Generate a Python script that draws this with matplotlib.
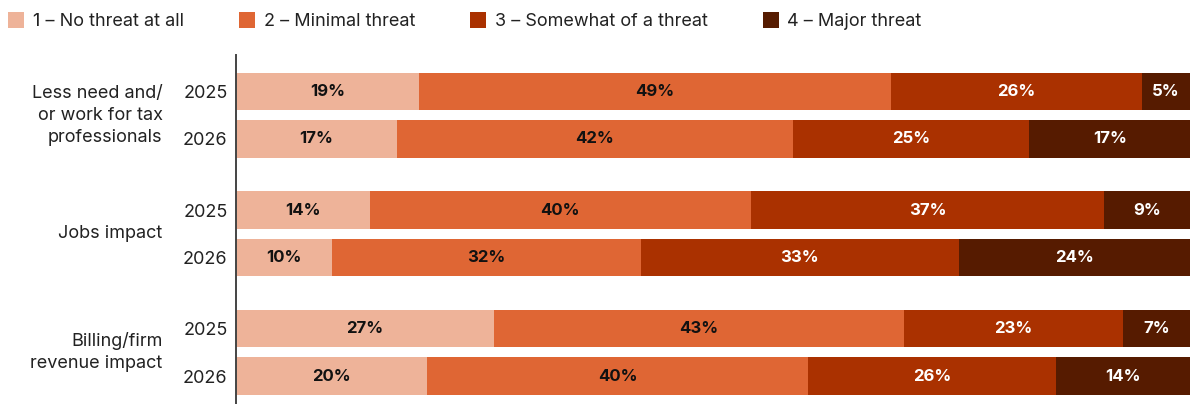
import matplotlib
matplotlib.use("Agg")
import matplotlib.pyplot as plt
import numpy as np

plt.rcParams["font.family"] = ["Inter", "DejaVu Sans"]

categories = ["Less need and/\nor work for tax\nprofessionals", "Jobs impact", "Billing/firm\nrevenue impact"]
years = ["2025", "2026"]
levels = ["1 – No threat at all", "2 – Minimal threat", "3 – Somewhat of a threat", "4 – Major threat"]

# rows: (category, year) in order; columns: threat levels 1..4 (percent)
no_threat = [19, 17, 14, 10, 27, 20]
minimal = [49, 42, 40, 32, 43, 40]
somewhat = [26, 25, 37, 33, 23, 26]
major = [5, 17, 9, 24, 7, 14]

colors = ["#EEB399", "#DF6634", "#AA3100", "#561B00"]
label_colors = ["#111111", "#111111", "white", "white"]

values = np.array([no_threat, minimal, somewhat, major], dtype=float).T
shares = values / values.sum(axis=1, keepdims=True) * 100

group_gap = 2.5
ypos = np.array([g * group_gap + j for g in range(len(categories)) for j in range(len(years))])
bar_h = 0.79

fig = plt.figure(figsize=(11.94, 4.04), dpi=100)
ax = fig.add_axes([236 / 1194, 0, (1190 - 236) / 1194, (404 - 55) / 404])

left = np.zeros(len(ypos))
handles = []
for k in range(4):
    h = ax.barh(ypos, shares[:, k], left=left, height=bar_h, color=colors[k],
                edgecolor="none", label=levels[k])
    handles.append(h)
    for i in range(len(ypos)):
        ax.text(left[i] + shares[i, k] / 2, ypos[i], f"{int(values[i, k])}%",
                ha="center", va="center", fontsize=12, fontweight="bold",
                color=label_colors[k])
    left += shares[:, k]

ax.set_xlim(0, 100)
ax.set_ylim(ypos[-1] + 0.59, -0.77)
ax.set_yticks(ypos)
ax.set_yticklabels(years * len(categories), fontsize=13, color="#222222")
ax.tick_params(axis="y", length=0, pad=6)
ax.set_xticks([])
for s in ["top", "right", "bottom"]:
    ax.spines[s].set_visible(False)
ax.spines["left"].set_color("#444444")
ax.spines["left"].set_linewidth(1.4)

for g, cat in enumerate(categories):
    yc = g * group_gap + 0.5
    ax.text(-0.077, yc, cat, transform=ax.get_yaxis_transform(), ha="right",
            va="center", fontsize=13, color="#222222", linespacing=1.38)

fig.legend(handles=handles, labels=levels, loc="center left",
           bbox_to_anchor=(8 / 1194, 1 - 21 / 404), ncol=4, frameon=False,
           fontsize=13, handlelength=0.9, handleheight=1.0,
           handletextpad=0.47, columnspacing=3.05, labelcolor="#222222",
           borderaxespad=0, borderpad=0)

fig.savefig("out.png", dpi=100)
